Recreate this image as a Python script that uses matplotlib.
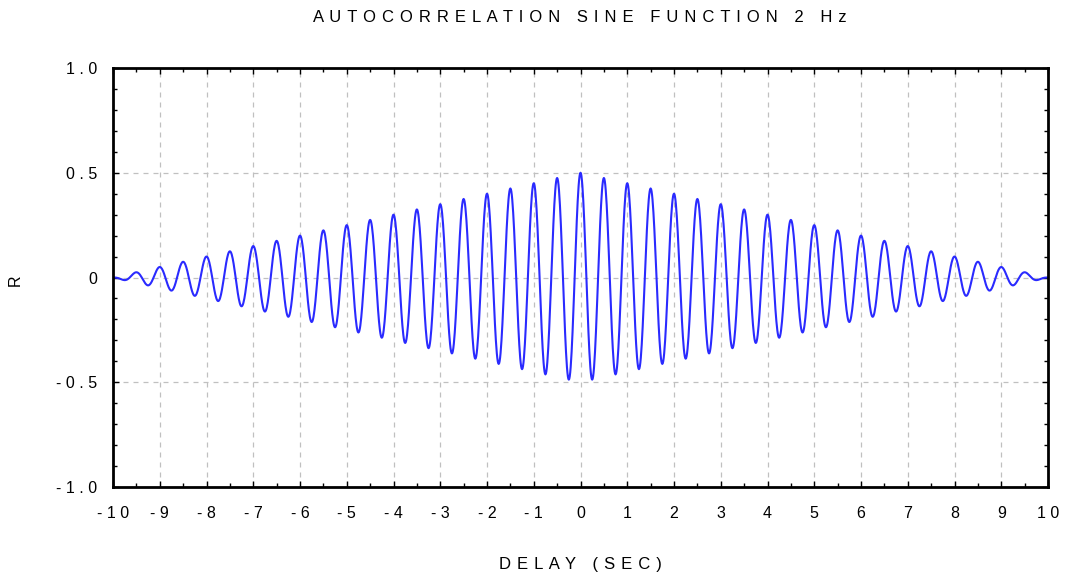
import numpy as np
import matplotlib
matplotlib.use("Agg")
import matplotlib.pyplot as plt
from matplotlib.ticker import MultipleLocator, FixedLocator, FixedFormatter

# signal: 2 Hz sine, 10 s long, sampled at 100 Hz
freq_hz = 2.0
duration_s = 10.0
fs = 100.0

title = "AUTOCORRELATION SINE FUNCTION 2 Hz"
xlabel = "DELAY (SEC)"
ylabel = "R"
xticks = list(range(-10, 11))
xticklabels = [str(v) for v in xticks]
yticks = [-1.0, -0.5, 0.0, 0.5, 1.0]
yticklabels = ["-1.0", "-0.5", "0", "0.5", "1.0"]

t = np.arange(0, duration_s, 1.0 / fs)
x = np.sin(2 * np.pi * freq_hz * t)
n = len(x)
r = np.correlate(x, x, mode="full") / n
lags = np.arange(-(n - 1), n) / fs


def spaced(s, gap=" "):
  # stretch text the way the old plotting package did
  return gap.join(s)


plt.rcParams['font.family'] = ['Liberation Sans', 'DejaVu Sans']

fig = plt.figure(figsize=(10.65, 5.77), dpi=100)
ax = fig.add_axes([113 / 1065, 1 - 487 / 577, (1048 - 113) / 1065, (487 - 68) / 577])

ax.plot(lags, r, color="#2a2aff", lw=1.5)

ax.set_xlim(-10, 10)
ax.set_ylim(-1, 1)
ax.xaxis.set_major_locator(FixedLocator(xticks))
ax.xaxis.set_major_formatter(FixedFormatter([spaced(s) for s in xticklabels]))
ax.xaxis.set_minor_locator(MultipleLocator(0.5))
ax.yaxis.set_major_locator(FixedLocator(yticks))
ax.yaxis.set_major_formatter(FixedFormatter([spaced(s) for s in yticklabels]))
ax.yaxis.set_minor_locator(MultipleLocator(0.1))

ax.tick_params(which="both", direction="in", top=True, right=True, labelsize=11.5, colors="black")
ax.tick_params(which="major", length=4, width=1)
ax.tick_params(which="minor", length=3, width=1)
ax.tick_params(axis="x", pad=14)
ax.tick_params(axis="y", pad=11.5)

ax.grid(True, which="major", ls=(0, (4, 4)), color="#c0c0c0", lw=0.9)
for sp in ax.spines.values():
  sp.set_linewidth(2)

gap = " \u200a"
fig.text(580 / 1065, 1 - 17 / 577, spaced(title, gap), ha="center", va="center", fontsize=12)
fig.text(580 / 1065, 1 - 565 / 577, spaced(xlabel, gap), ha="center", va="center", fontsize=12)
fig.text(15 / 1065, 1 - 280 / 577, ylabel, ha="center", va="center", rotation=90, fontsize=11.5)

plt.savefig("out.png", dpi=100)
